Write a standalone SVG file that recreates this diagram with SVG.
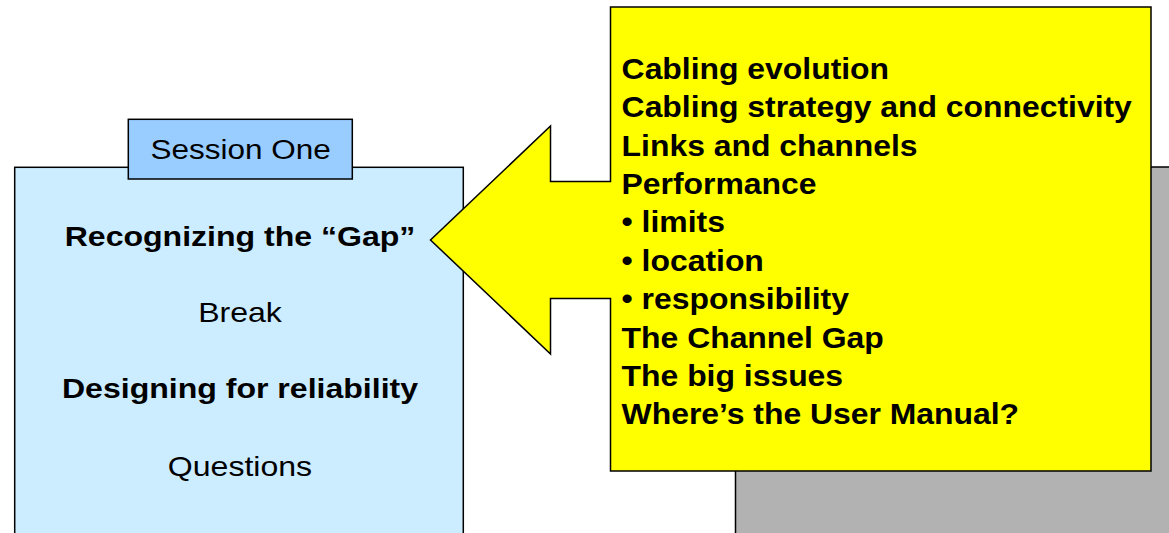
<svg xmlns="http://www.w3.org/2000/svg" width="1169" height="533" viewBox="0 0 1169 533">
  <style>
    .box { stroke: #000; stroke-width: 1.5; }
    .t { font-family: "Liberation Sans", Arial, sans-serif; font-size: 28px; fill: #000; }
    .b { font-weight: bold; }
    .c { text-anchor: middle; }
    .y { font-family: "Liberation Sans", Arial, sans-serif; font-size: 29px; font-weight: bold; fill: #000; }
  </style>
  <rect width="1169" height="533" fill="#fff"/>
  <g id="shadow-panel">
    <rect class="box" x="735.5" y="167" width="450" height="400" fill="#B2B2B2"/>
  </g>
  <g id="session-box">
    <rect class="box" x="14.7" y="167.3" width="448.6" height="400" fill="#CCECFF"/>
    <g transform="translate(240,0) scale(1.145,1)">
      <text class="t b c" x="0" y="246.5">Recognizing the “Gap”</text>
      <text class="t c" x="0" y="322">Break</text>
      <text class="t b c" x="0" y="398">Designing for reliability</text>
      <text class="t c" x="0" y="476">Questions</text>
    </g>
  </g>
  <g id="session-tab">
    <rect class="box" x="128.3" y="119.3" width="224" height="59.7" fill="#99CCFF"/>
    <g transform="translate(240.6,0) scale(1.125,1)">
      <text class="t c" x="0" y="159.3">Session One</text>
    </g>
  </g>
  <g id="topics-callout">
    <path class="box" d="M610.5,7 H1151 V471 H610.5 V298.5 H550.5 V354 L430.5,240 L550.5,126 V181.5 H610.5 Z" fill="#FFFF00"/>
    <g transform="translate(621.6,0) scale(1.1,1)">
      <text class="y" x="0" y="78.8">Cabling evolution</text>
      <text class="y" x="0" y="117.2">Cabling strategy and connectivity</text>
      <text class="y" x="0" y="155.6">Links and channels</text>
      <text class="y" x="0" y="194">Performance</text>
      <text class="y" x="0" y="232.4">• limits</text>
      <text class="y" x="0" y="270.8">• location</text>
      <text class="y" x="0" y="309.2">• responsibility</text>
      <text class="y" x="0" y="347.6">The Channel Gap</text>
      <text class="y" x="0" y="386">The big issues</text>
      <text class="y" x="0" y="424.4">Where’s the User Manual?</text>
    </g>
  </g>
  <g id="connectors"></g>
</svg>
